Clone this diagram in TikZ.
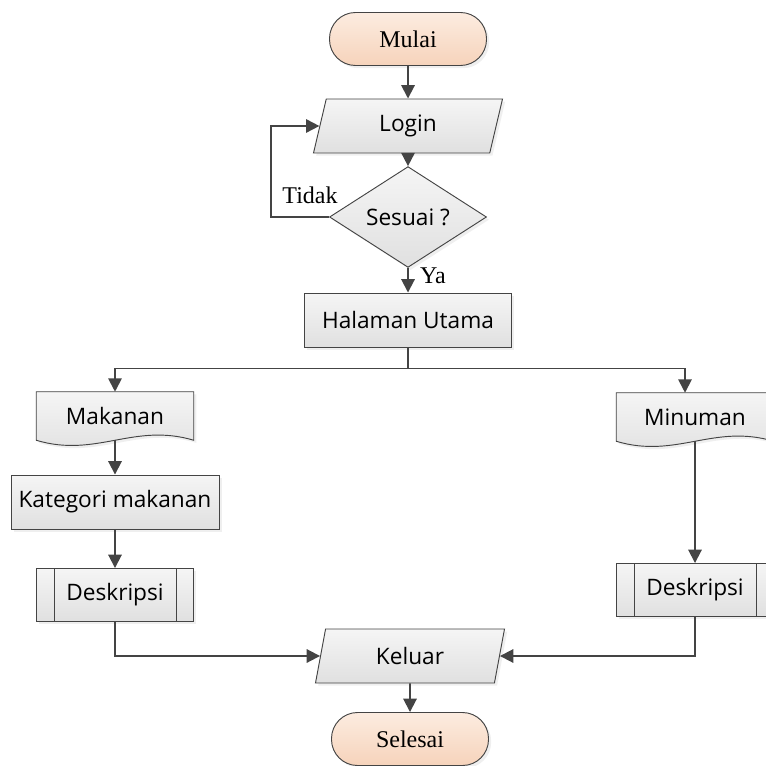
\documentclass[tikz,border=0pt]{standalone}
\usepackage{fontspec}
\setmainfont{Liberation Serif}
\setsansfont{Open Sans}
\usetikzlibrary{shapes.geometric,arrows.meta,shadows,backgrounds}
\newcommand{\pu}{0.75pt}
\definecolor{linegray}{HTML}{444444}
\definecolor{boxtop}{HTML}{F5F5F5}
\definecolor{boxbot}{HTML}{E0E0E0}
\definecolor{peachtop}{HTML}{FCECE0}
\definecolor{peachbot}{HTML}{F6D3BB}
% document outline (wavy bottom) behind a docbox node
\newcommand{\docpath}[1]{%
  \draw[draw=linegray, line width=0.7pt, top color=boxtop, bottom color=boxbot,
        drop shadow={shadow xshift=2pt, shadow yshift=-2pt, fill=black!12}]
    (#1.north west) -- (#1.north east) -- (#1.south east)
    .. controls +(-60,-18) and +(60,18) .. (#1.south west) -- cycle;}
% side bars of a predefined process
\newcommand{\subbars}[1]{%
  \draw[draw=linegray, line width=0.7pt] ([xshift=18*\pu]#1.north west) -- ([xshift=18*\pu]#1.south west);
  \draw[draw=linegray, line width=0.7pt] ([xshift=-18*\pu]#1.north east) -- ([xshift=-18*\pu]#1.south east);}

\begin{document}
\begin{tikzpicture}[x=\pu, y=-\pu,
  base/.style={draw=linegray, line width=0.7pt, top color=boxtop, bottom color=boxbot, inner sep=0pt,
    font=\sffamily\fontsize{17}{19}\selectfont,
    drop shadow={shadow xshift=2pt, shadow yshift=-2pt, fill=black!12}},
  terminal/.style={base, top color=peachtop, bottom color=peachbot, rounded corners=26*\pu,
    minimum width=157*\pu, minimum height=53*\pu, font=\rmfamily\fontsize{18}{20}\selectfont},
  io/.style={base, trapezium, trapezium left angle=60, trapezium right angle=120,
    trapezium stretches body, minimum width=189*\pu, minimum height=54*\pu},
  decision/.style={base, diamond, minimum width=157*\pu, minimum height=83*\pu},
  process/.style={base, rectangle, minimum height=54*\pu},
  subproc/.style={process, minimum width=157*\pu, minimum height=53*\pu},
  docbox/.style={inner sep=0pt, font=\sffamily\fontsize{17}{19}\selectfont,
    minimum width=157*\pu, minimum height=48*\pu},
  line/.style={draw=linegray, line width=1.4pt},
  arr/.style={line, -{Triangle[length=10pt,width=10pt]}},
  lbl/.style={font=\rmfamily\fontsize{18}{20}\selectfont}]
  \useasboundingbox (0,0) rectangle (766,766);

  % main column
  \node[terminal] (mulai) at (408,39) {Mulai};
  \node[io] (login) at (408,126) {Login};
  \node[decision] (sesuai) at (408,217) {Sesuai ?};
  \node[process, minimum width=207*\pu] (utama) at (408,320) {Halaman Utama};

  % branches
  \node[docbox] (makanan) at (115,416) {Makanan};
  \node[docbox] (minuman) at (695,417) {Minuman};
  \node[process, minimum width=208*\pu] (kategori) at (115,502) {Kategori makanan};
  \node[subproc] (deskripsi1) at (115,595) {Deskripsi};
  \node[subproc] (deskripsi2) at (695,590) {Deskripsi};
  \subbars{deskripsi1}
  \subbars{deskripsi2}

  % end
  \node[io] (keluar) at (410,656) {Keluar};
  \node[terminal] (selesai) at (410,739) {Selesai};

  \begin{scope}[on background layer]
    \docpath{makanan}
    \docpath{minuman}
  \end{scope}

  % labels
  \node[lbl] (tidak) at (310,195) {Tidak};
  \node[lbl] (ya) at (433,276) {Ya};

  % connectors
  \draw[arr] (mulai) -- (login);
  \draw[arr] (login) -- (sesuai);
  \draw[arr] (sesuai.west) -- ++(-58,0) |- (login.west);
  \draw[arr] (sesuai) -- (utama);
  \draw[line] (utama.south) -- ++(0,21) coordinate (split);
  \draw[arr] (split) -| (makanan.north);
  \draw[arr] (split) -| ([xshift=-10*\pu]minuman.north);
  \draw[arr] (makanan.south) -- (kategori);
  \draw[arr] (kategori) -- (deskripsi1);
  \draw[arr] (minuman.south) -- (deskripsi2);
  \draw[arr] (deskripsi1.south) |- (keluar.west);
  \draw[arr] (deskripsi2.south) |- (keluar.east);
  \draw[arr] (keluar) -- (selesai);
\end{tikzpicture}
\end{document}
